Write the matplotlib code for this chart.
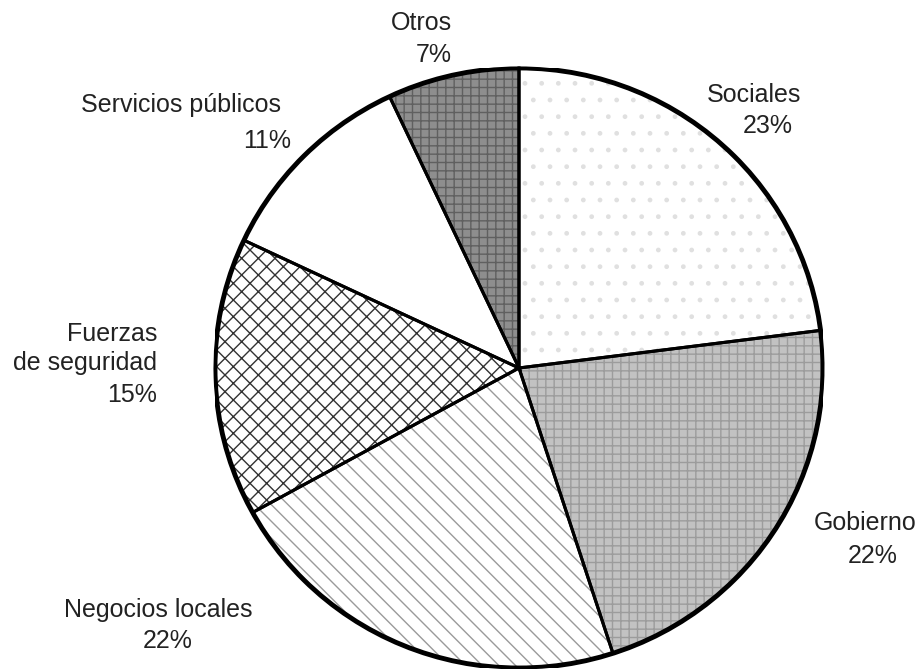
import matplotlib
matplotlib.use('Agg')
import matplotlib.pyplot as plt
from matplotlib.patches import Circle

plt.rcParams['font.family'] = ['Liberation Sans', 'DejaVu Sans']
plt.rcParams['hatch.linewidth'] = 1.0

# data (clockwise from the top)
categorias = ['Sociales', 'Gobierno', 'Negocios locales', 'Fuerzas\nde seguridad',
              'Servicios públicos', 'Otros']
porcentajes = [23, 22, 22, 15, 11, 7]

# fill style per slice: face colour, hatch, hatch colour
caras = ['white', '#c2c2c2', 'white', 'white', 'white', '#8e8e8e']
tramas = ['.', '++', '\\\\', 'xx', '', '++']
color_trama = ['#e0e0e0', '#9c9c9c', '#9a9a9a', '#333333', 'white', '#606060']

W, H = 922, 669
fig = plt.figure(figsize=(W / 100, H / 100), dpi=100)
ax = fig.add_axes([0.2332, 0.0015, 0.6594, 0.8969])

wedges, _ = ax.pie(porcentajes, startangle=90, counterclock=False,
                   colors=caras, wedgeprops=dict(linewidth=0))
for w, h, c in zip(wedges, tramas, color_trama):
    w.set_hatch(h)
    w.set_edgecolor(c)

ax.pie(porcentajes, startangle=90, counterclock=False,
       wedgeprops=dict(fill=False, edgecolor='black', linewidth=2.2))
ax.add_patch(Circle((0, 0), 1, fill=False, edgecolor='black', linewidth=3.5))
ax.set_aspect('auto')
ax.set_xlim(-1, 1)
ax.set_ylim(-1, 1)
ax.axis('off')

# label placement (pixels: x, baseline y of last line, alignment)
pos_nombre = [(754, 102, 'center'), (865, 530, 'center'), (158, 617, 'center'),
              (157, 370, 'right'), (181, 112, 'center'), (452, 30, 'right')]
pos_pct = [(768, 133, 'center'), (873, 563, 'center'), (168, 648, 'center'),
           (157, 402, 'right'), (267, 148, 'center'), (452, 62, 'right')]

for nombre, p, (x, y, ha), (px, py, pha) in zip(categorias, porcentajes, pos_nombre, pos_pct):
    fig.text(x / W, 1 - y / H, nombre, ha=ha, va='baseline', fontsize=18,
             color='#222222', linespacing=1.25)
    fig.text(px / W, 1 - py / H, f'{p}%', ha=pha, va='baseline', fontsize=18,
             color='#222222')

fig.savefig('out.png', dpi=100)
